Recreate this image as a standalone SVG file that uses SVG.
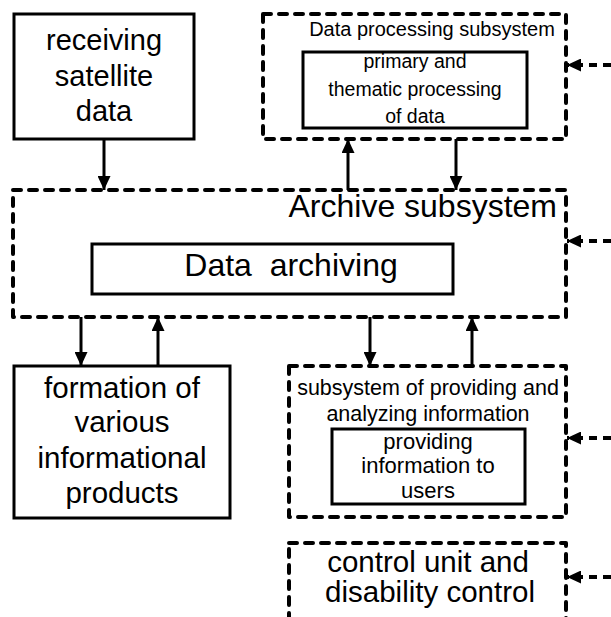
<svg xmlns="http://www.w3.org/2000/svg" width="611" height="617" viewBox="0 0 611 617">
<style>
text{font-family:"Liberation Sans",Arial,sans-serif;fill:#000;text-anchor:middle;white-space:pre}
.solid{fill:#fff;stroke:#000;stroke-width:3}
.dash{fill:#fff;stroke:#000;stroke-width:4;stroke-dasharray:8 8;stroke-linecap:round;stroke-linejoin:round}
.arr{fill:none;stroke:#000;stroke-width:3;marker-end:url(#ah)}
.darr{fill:none;stroke:#000;stroke-width:4;stroke-dasharray:8 6;marker-end:url(#ah)}
</style>
<defs>
<marker id="ah" markerUnits="userSpaceOnUse" viewBox="0 0 14 13" refX="14" refY="6.5" markerWidth="14" markerHeight="13" orient="auto">
<path d="M0,0 L14,6.5 L0,13 z" fill="#000"/>
</marker>
</defs>
<rect width="611" height="617" fill="#fff"/>
<g id="receiving">
<rect class="solid" x="14" y="14" width="180" height="125"/>
<text x="104" y="50" font-size="29">receiving</text>
<text x="104" y="86" font-size="29">satellite</text>
<text x="104" y="121" font-size="29">data</text>
</g>
<g id="dataproc">
<rect class="dash" x="263" y="14" width="303" height="125"/>
<text x="432" y="36" font-size="20">Data processing subsystem</text>
<rect class="solid" x="303" y="52" width="224" height="76"/>
<text x="415" y="68" font-size="19.5">primary and</text>
<text x="415" y="96" font-size="19.5">thematic processing</text>
<text x="415" y="123" font-size="19.5">of data</text>
</g>
<g id="archive">
<rect class="dash" x="13" y="190" width="553" height="127"/>
<text x="557" y="217" font-size="32" style="text-anchor:end">Archive subsystem</text>
<rect class="solid" x="92" y="244" width="361" height="50"/>
<text x="291" y="276" font-size="32">Data  archiving</text>
</g>
<g id="formation">
<rect class="solid" x="14" y="366" width="216" height="152"/>
<text x="122" y="398" font-size="29.5">formation of</text>
<text x="122" y="432" font-size="29.5">various</text>
<text x="122" y="468" font-size="29.5">informational</text>
<text x="122" y="503" font-size="29.5">products</text>
</g>
<g id="providing">
<rect class="dash" x="289" y="366" width="277" height="151"/>
<text x="428" y="395" font-size="21.5">subsystem of providing and</text>
<text x="428" y="421" font-size="21.5">analyzing information</text>
<rect class="solid" x="332" y="429" width="193" height="75"/>
<text x="428" y="449" font-size="22">providing</text>
<text x="428" y="473" font-size="22">information to</text>
<text x="428" y="498" font-size="22">users</text>
</g>
<g id="control">
<rect class="dash" x="289" y="543" width="277" height="90"/>
<text x="428" y="572" font-size="29.5">control unit and</text>
<text x="430" y="602" font-size="29.5">disability control</text>
</g>
<g id="connectors">
<path class="arr" d="M104,139 V190"/>
<path class="arr" d="M348,190 V139"/>
<path class="arr" d="M456,139 V190"/>
<path class="arr" d="M81,317 V366"/>
<path class="arr" d="M158,366 V317"/>
<path class="arr" d="M370,317 V366"/>
<path class="arr" d="M472,366 V317"/>
<path class="darr" d="M611,65 H567"/>
<path class="darr" d="M611,241 H567"/>
<path class="darr" d="M611,438 H567"/>
<path class="darr" d="M611,577 H567"/>
</g>
</svg>
